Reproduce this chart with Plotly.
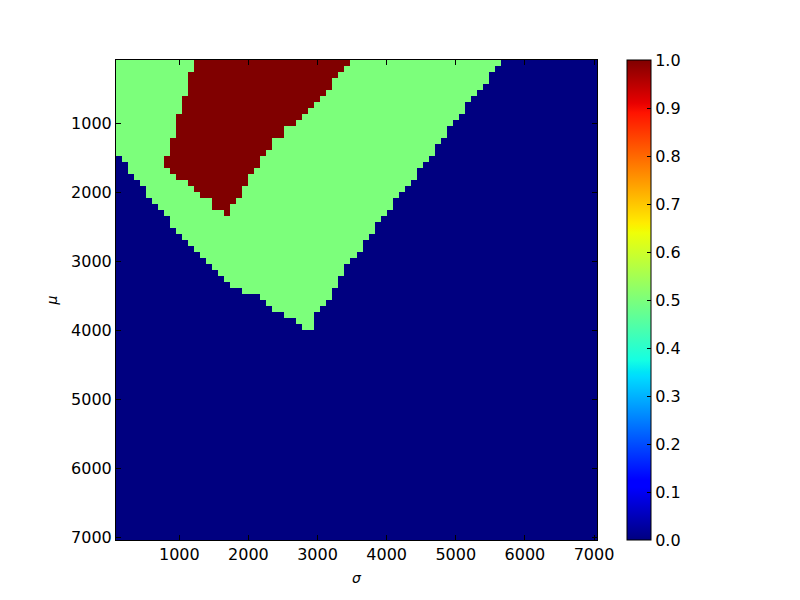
import numpy as np
import plotly.graph_objects as go

# 80 x 80 grid over sigma (columns) and mu (rows), top row = smallest mu
N_CELLS = 80
EDGE_LO, EDGE_HI = 84.0, 7043.0

# per row of mu (top first): column index where each region starts / ends
green_from = [0] * 16 + [1, 2, 2, 3, 4, 5, 5, 6, 7, 8, 9, 9, 10, 11, 12, 13, 14,
                         15, 16, 17, 18, 19, 21, 24, 25, 26, 28, 30, 31]
green_to = [64, 63, 62, 62, 61, 60, 59, 58, 58, 57, 56, 55, 55, 54, 53, 53, 52, 51,
            50, 50, 49, 48, 47, 46, 46, 45, 44, 43, 43, 42, 41, 41, 40, 39, 38, 38,
            37, 37, 36, 36, 35, 34, 33, 33, 33]
red_from = [13, 13, 12, 12, 12, 12, 11, 11, 11, 10, 10, 10, 10, 9, 9, 9, 8, 8, 9,
            10, 12, 13, 14, 16, 16, 18]
red_to = [39, 38, 37, 36, 36, 35, 34, 33, 32, 31, 30, 28, 28, 26, 26, 25, 24, 24, 23,
          22, 22, 21, 21, 20, 19, 19]

tick_vals = [1000, 2000, 3000, 4000, 5000, 6000, 7000]
cbar_ticks = [0.0, 0.1, 0.2, 0.3, 0.4, 0.5, 0.6, 0.7, 0.8, 0.9, 1.0]

# Build the matrix
z = np.zeros((N_CELLS, N_CELLS))
for r in range(len(green_to)):
    z[r, green_from[r]:green_to[r]] = 0.5
for r in range(len(red_to)):
    z[r, red_from[r]:red_to[r]] = 1.0

step = (EDGE_HI - EDGE_LO) / N_CELLS
centers = EDGE_LO + step * (np.arange(N_CELLS) + 0.5)

# matplotlib 'jet'
jet_pts = np.array([0, 0.11, 0.125, 0.34, 0.35, 0.375, 0.64, 0.65, 0.66, 0.89, 0.91, 1.0])
red_c = np.interp(jet_pts, [0, 0.35, 0.66, 0.89, 1], [0, 0, 1, 1, 0.5])
green_c = np.interp(jet_pts, [0, 0.125, 0.375, 0.64, 0.91, 1], [0, 0, 1, 1, 0, 0])
blue_c = np.interp(jet_pts, [0, 0.11, 0.34, 0.65, 1], [0.5, 1, 1, 0, 0])
jet = [[float(p), 'rgb(%d,%d,%d)' % (round(r * 255), round(g * 255), round(b * 255))]
       for p, r, g, b in zip(jet_pts, red_c, green_c, blue_c)]

fig = go.Figure(go.Heatmap(
    z=z, x=centers, y=centers,
    zmin=0, zmax=1,
    colorscale=jet,
    colorbar=dict(
        x=(627 - 116) / 481, xanchor='left', xpad=0,
        y=0.5, yanchor='middle', len=1, lenmode='fraction', ypad=0,
        thickness=24, outlinecolor='black', outlinewidth=1,
        tickvals=cbar_ticks, ticktext=['%.1f' % v for v in cbar_ticks],
        ticks='inside', ticklen=4, tickcolor='black',
        tickfont=dict(size=16, color='black'),
    ),
))

axis_common = dict(
    tickvals=tick_vals,
    ticks='inside', ticklen=5, tickcolor='black',
    showline=True, linecolor='black', linewidth=1, mirror='ticks',
    showgrid=False, zeroline=False, automargin=False,
    tickfont=dict(size=16, color='black'),
)

# the page body adds 8px around the figure, so margins are shifted by that much
fig.update_layout(
    width=800, height=600,
    margin=dict(l=108, r=211, t=52, b=68, autoexpand=False),
    paper_bgcolor='white', plot_bgcolor='white',
    font=dict(family='DejaVu Sans', color='black'),
    xaxis=dict(range=[EDGE_LO, EDGE_HI], title=dict(text='<i>σ</i>', font=dict(size=14), standoff=9),
               **axis_common),
    yaxis=dict(range=[EDGE_HI, EDGE_LO], title=dict(text='<i>μ</i>', font=dict(size=14), standoff=10),
               **axis_common),
)

fig.write_html('out.html')
